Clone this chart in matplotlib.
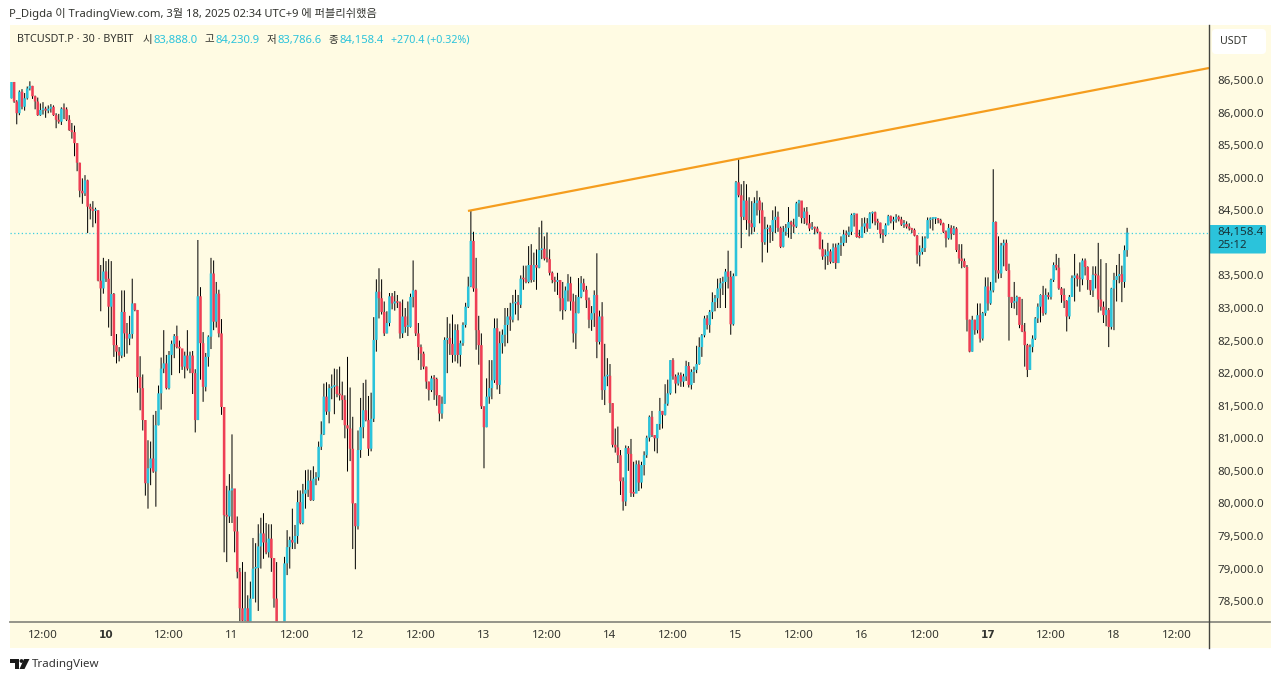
import numpy as np
import matplotlib
matplotlib.use('Agg')
import matplotlib.pyplot as plt
from matplotlib.patches import Polygon, Rectangle, Circle, FancyBboxPatch

plt.rcParams['font.family'] = ['Noto Sans', 'Noto Sans CJK KR', 'DejaVu Sans']

# 30 min candles, first open + closes / highs / lows (open = previous close)
first_open = 86218
closes = [
    86469,86170,85990,86320,86090,86220,86370,86410,86250,86170,
    85960,86040,86060,86030,86060,86090,85960,85890,85860,86060,
    86050,85890,85730,85700,85530,85230,84800,84760,84960,84555,
    84520,84490,84500,83420,83300,83560,83450,83020,83215,82430,
    82330,82270,82940,82610,82530,82600,83070,82970,81940,81770,
    81280,80310,80540,80690,80490,81200,81690,82070,82150,81770,
    82280,82450,82570,82400,82380,82100,82270,82070,82270,82000,
    81280,83180,82460,81790,82250,82560,83530,82790,83220,82610,
    81480,79820,79800,80200,80230,79570,78950,78390,78200,78390,
    78100,78540,79000,79010,79340,79540,79400,79250,79460,79160,
    78540,78100,77950,77800,79080,79330,79440,79400,79500,80020,
    79700,80150,80210,80350,80050,80380,80400,80870,81060,81640,
    81410,81770,81790,81800,81680,81660,81590,81200,81150,80840,
    80000,79650,80820,81170,81430,81280,80840,81300,82510,83250,
    83150,82940,82610,82770,83180,83070,83100,83080,82610,82870,
    82710,82710,83170,83270,82610,82400,82300,82100,81870,81740,
    81920,81910,81660,81380,81530,82510,82540,82450,82280,82660,
    82280,82460,82740,83020,83330,84030,83300,82660,82430,81490,
    81170,81640,81770,81890,82690,81820,82460,82590,82740,82870,
    82820,83070,83090,83050,83450,83440,83400,83660,83430,83660,
    83620,83890,83910,83760,83750,83540,83430,83400,83430,83150,
    82970,83270,83380,83100,82610,82920,83170,83380,83280,83120,
    82820,82920,83200,82480,82870,81740,81950,81960,81540,80900,
    80860,80740,80340,80030,80850,80760,80160,80150,80600,80320,
    80590,80740,81010,81330,81050,81000,81220,81420,81360,81530,
    81690,82200,81950,81840,81970,81870,81950,82110,81820,82020,
    82050,82140,82400,82580,82840,82740,82940,83090,83150,83300,
    83380,83400,83560,83480,82750,83490,84930,84730,84400,84650,
    84350,84300,84240,84610,84650,84500,84010,84210,84230,84170,
    84350,84400,84230,83940,84170,84230,84320,84280,84250,84607,
    84650,84380,84480,84300,84220,84230,84220,84170,83910,83790,
    83800,83870,83710,83930,83690,83970,84000,84130,84120,84170,
    84430,84450,84090,84080,84250,84300,84220,84450,84470,84330,
    84310,84140,84120,84270,84410,84330,84360,84400,84360,84280,
    84290,84250,84220,84200,84110,83810,83860,83920,84070,84350,
    84370,84370,84370,84350,84300,84170,84070,84230,84140,84220,
    83890,83760,83720,83630,82820,82330,82820,82660,82890,82530,
    82920,83330,83070,83270,84320,83580,83530,83960,84000,83580,
    83170,83080,83100,83170,82740,82640,82430,82050,82400,82530,
    82840,83020,83200,82920,83200,83170,83430,83660,83620,83300,
    83200,83110,82870,83170,83460,83500,83450,83440,83730,83630,
    83430,83270,83510,83500,83130,83020,82890,82970,82710,83300,
    83430,83490,83520,83400,83888,84158.4,
]
highs = [
    86469,86470,86190,86340,86360,86300,86400,86480,86410,86260,
    86230,86140,86160,86090,86110,86130,86110,85990,85980,86080,
    86140,86080,85960,85840,85800,85530,85230,84990,85040,84970,
    84600,84640,84540,84500,83660,83770,83720,83750,83720,83230,
    82600,82400,83270,83270,82770,82880,83450,83070,82970,82260,
    81980,81280,80970,80950,81360,81420,81810,82240,82660,82280,
    82340,82500,82600,82730,82500,82340,82330,82660,82330,82340,
    82060,84044,83320,82630,82310,82580,83770,83730,83400,83280,
    82830,81480,80270,80450,81060,80220,79800,79010,79100,78950,
    78590,78800,79470,79390,79680,79780,79850,79700,79680,79680,
    79160,79100,78100,77950,79180,79590,79490,79920,79670,80200,
    80200,80300,80510,80520,80510,80570,80480,80950,81260,81840,
    81860,81830,81980,82070,82060,82100,81870,81660,82250,81780,
    81330,80000,81120,81620,81850,81900,81650,81700,82860,83440,
    83610,83440,83100,82950,83230,83230,83260,83200,83100,83130,
    83000,83100,83220,83730,83280,82770,82440,82330,82100,81870,
    81960,81970,81930,81660,81640,82550,82860,82760,82900,82750,
    82750,82500,82780,83080,83480,84490,84170,83770,82880,82610,
    81490,81920,82200,82200,82840,82840,82640,82670,83000,83000,
    83080,83200,83280,83200,83500,83650,83650,83950,83980,83850,
    83900,84240,84340,84100,84160,83900,83560,83480,83540,83430,
    83400,83330,83520,83480,83220,83200,83460,83490,83450,83340,
    83160,83030,83270,83840,82960,83090,82450,82230,82140,81540,
    81150,81180,80820,80400,80890,80880,80990,80640,80660,80660,
    80640,80800,81040,81350,81420,81050,81220,81620,81420,81830,
    81900,82200,82230,81980,82010,82010,81990,82190,82170,82060,
    82100,82420,82550,82600,82880,82890,82970,83240,83200,83450,
    83460,83480,83600,83880,83570,83530,84950,85300,84900,84950,
    84900,84700,84640,84700,84800,84700,84620,84400,84280,84270,
    84500,84560,84480,84250,84260,84290,84550,84340,84370,84630,
    84660,84630,84540,84550,84430,84320,84250,84250,84170,84050,
    83900,84000,83900,83990,83990,84000,84100,84200,84190,84250,
    84450,84460,84400,84200,84380,84390,84380,84470,84480,84480,
    84370,84310,84210,84300,84430,84420,84400,84440,84420,84400,
    84350,84330,84300,84230,84220,84120,83960,84100,84100,84390,
    84390,84390,84390,84380,84370,84310,84190,84290,84270,84260,
    84240,83980,83980,83760,83660,82820,82880,82820,83070,83070,
    82940,83470,83470,83400,85130,84330,84100,84000,84050,84050,
    83680,83170,83400,83190,83170,83140,82770,82450,82440,82580,
    82860,83070,83210,83340,83300,83240,83450,83700,83830,83770,
    83320,83300,83120,83200,83500,83830,83530,83700,83760,83760,
    83640,83430,83640,83640,84000,83750,83100,83690,83000,83310,
    83540,83660,83830,83650,83960,84230.9,
]
lows = [
    86218,86150,85820,85960,86050,86030,86200,86340,86210,86050,
    85950,85950,85970,85920,85990,86000,85950,85760,85830,85810,
    85900,85870,85720,85600,85330,85100,84700,84600,84720,84150,
    84360,84240,84300,83410,82950,83220,83400,82700,82570,82250,
    82150,82180,82230,82250,82300,82430,82530,82950,81700,81430,
    81120,80120,79920,80280,80470,79950,81200,81440,82000,81750,
    81750,81970,82230,82380,82000,82050,81920,82040,82000,81680,
    81090,81280,81900,81560,81720,82100,82370,82660,82700,82550,
    81360,79250,79100,79700,79700,79250,78850,78190,78190,78190,
    77900,78000,78540,78480,78350,79000,79150,79220,79170,78950,
    78400,77900,77800,77700,77800,78900,79000,79300,79300,79380,
    79680,79680,79920,80100,80040,80040,80280,80350,80820,81050,
    81360,81230,81600,81370,81630,81580,81280,81000,80490,80650,
    79300,78990,79600,80700,81000,81260,80730,80800,81250,82330,
    82840,82900,82570,82610,82720,82980,82960,83000,82530,82540,
    82620,82570,82700,83010,82570,82200,82050,82060,81760,81580,
    81710,81590,81500,81260,81300,81530,82000,82280,82160,82180,
    82150,82100,82420,82700,83000,83320,83250,82360,82130,81450,
    80540,81170,81530,81600,81850,81750,81680,82300,82410,82460,
    82650,82780,82900,82810,83000,83280,83380,83380,83390,83400,
    83280,83610,83750,83730,83700,83500,83380,83250,83200,82950,
    82820,82950,83100,82960,82470,82370,82920,83150,83250,83000,
    82690,82650,82710,82230,82440,81590,81510,81800,81390,80860,
    80780,80620,80130,79890,79960,80500,80100,80100,80170,80190,
    80230,80430,80700,80950,81020,80800,80770,81130,81150,81350,
    81500,81670,81900,81690,81810,81790,81790,81880,81780,81750,
    81850,82000,82130,82250,82550,82670,82620,82830,82950,83000,
    83000,83200,83000,83300,82590,82730,83490,84700,83920,84350,
    84200,84100,84130,84170,84420,84300,83700,83970,83850,84000,
    84030,84150,84170,83920,83930,84110,84080,84060,84150,84230,
    84400,84300,84290,84270,84180,84200,84130,84150,83900,83740,
    83590,83660,83680,83690,83600,83690,83800,83950,84000,84090,
    84120,84250,84080,84070,84080,84150,84170,84220,84300,84270,
    84200,84070,84000,84100,84270,84300,84200,84310,84330,84260,
    84230,84220,84190,84150,84100,83680,83640,83820,83860,84070,
    84220,84190,84290,84300,84270,84150,83930,84050,84050,84120,
    83860,83680,83610,83620,82640,82320,82330,82590,82610,82470,
    82500,82880,82960,83050,83240,83390,83450,83460,83640,83570,
    82500,83000,82990,82890,82690,82630,82100,81940,82050,82320,
    82510,82770,82780,82880,82900,83130,83130,83400,83580,83280,
    83080,83000,82640,82830,83170,83100,83330,83250,83350,83500,
    83280,83200,83170,83300,82930,82960,82770,82720,82400,82670,
    82660,83100,83380,83090,83310,83786.6,
]

# 84,000.0 sits behind the last price tag, so it is not listed
y_ticks = [78500 + 500 * k for k in range(17) if 78500 + 500 * k != 84000]
x_tick_bars = [12 + 24 * k for k in range(19)]
x_tick_labels = ['12:00', '10', '12:00', '11', '12:00', '12', '12:00', '13', '12:00', '14',
                 '12:00', '15', '12:00', '16', '12:00', '17', '12:00', '18', '12:00']
bold_labels = ['10', '17']
trend_bars = [173.9, 456.2]
trend_prices = [84490, 86684]
last_price = 84158.4

W, H = 1280, 681
BG = '#FFFBE3'
BLUE = '#2BC3DB'
RED = '#EE3F55'
ORANGE = '#F59D1E'
TEXT = '#33342f'

fig = plt.figure(figsize=(W / 100, H / 100), dpi=100, facecolor='white')

# chrome layer in pixel coords
bg = fig.add_axes([0, 0, 1, 1], zorder=0)
bg.set_xlim(0, W)
bg.set_ylim(H, 0)
bg.axis('off')
bg.add_patch(Rectangle((10, 25), 1261, 623, color=BG, lw=0))

ax = fig.add_axes([10 / W, (H - 622) / H, 1199 / W, 596 / H], zorder=1)
ax.patch.set_alpha(0)
ax.set_xlim(-0.57, 456.2)
ax.set_ylim(78180, 87329)

c = np.array(closes, dtype=float)
o = np.r_[first_open, c[:-1]]
hi = np.array(highs, dtype=float)
lo = np.array(lows, dtype=float)
bars = np.arange(len(c))
colors = np.where(c >= o, BLUE, RED)

wicks = ax.vlines(bars, lo, hi, color='black', lw=0.72, zorder=2)
wicks.set_snap(False)
ax.bar(bars, np.maximum(np.abs(c - o), 25), bottom=np.minimum(c, o), width=0.98,
       color=colors, lw=0, zorder=3, snap=False)
ax.axhline(last_price, color='#3CCFE0', lw=0.9, ls=(0, (1, 2)), zorder=1)
ax.plot(trend_bars, trend_prices, color=ORANGE, lw=1.6, zorder=4, solid_capstyle='butt')

for s in ax.spines.values():
    s.set_visible(False)
ax.yaxis.tick_right()
ax.set_yticks(y_ticks)
ax.set_yticklabels([f'{v:,.1f}' for v in y_ticks], fontsize=8.3, color=TEXT)
ax.set_xticks(x_tick_bars)
ax.set_xticklabels(x_tick_labels, fontsize=8.3, color=TEXT)
for lab in ax.get_xticklabels():
    if lab.get_text() in bold_labels:
        lab.set_fontfamily(['DejaVu Sans'])
        lab.set_fontweight('bold')
        lab.set_fontsize(7.6)
ax.tick_params(axis='y', length=0, pad=5.8)
ax.tick_params(axis='x', length=0, pad=6)

top = fig.add_axes([0, 0, 1, 1], zorder=2)
top.set_xlim(0, W)
top.set_ylim(H, 0)
top.axis('off')
top.plot([10, 1270], [622, 622], color='#8c8c82', lw=1.3)
top.plot([1209, 1209], [25, 648], color='#45453f', lw=1.0)

# USDT button
top.add_patch(FancyBboxPatch((1214, 31), 50, 21, boxstyle='round,pad=2,rounding_size=4',
                             fc='white', ec='none'))
top.text(1233.5, 41.5, 'USDT', fontsize=7.6, color=TEXT, ha='center', va='center')

# last price tag
top.add_patch(FancyBboxPatch((1209, 225), 57, 28.5, boxstyle='round,pad=0,rounding_size=1.5',
                             fc=BLUE, ec='none'))
top.text(1217, 232.5, f'{last_price:,.1f}', fontsize=8.3, color='#17343a', va='center')
top.text(1217, 245.5, '25:12', fontsize=8.3, color='#17343a', va='center')

# header
top.text(9, 14, 'P_Digda 이 TradingView.com, 3월 18, 2025 02:34 UTC+9 에 퍼블리쉬했음',
         fontsize=8.1, color=TEXT, va='center')
top.text(17, 40, 'BTCUSDT.P · 30 · BYBIT', fontsize=7.8, color=TEXT, va='center')
for x_k, k, x_v, v in [(143, '시', 153, '83,888.0'), (204, '고', 215, '84,230.9'),
                       (267, '저', 277, '83,786.6'), (328, '종', 339, '84,158.4')]:
    top.text(x_k, 40, k, fontsize=7.6, color=TEXT, va='center')
    top.text(x_v, 40, v, fontsize=8.1, color=BLUE, va='center')
top.text(391, 40, '+270.4 (+0.32%)', fontsize=7.7, color=BLUE, va='center')

# TradingView mark
top.add_patch(Polygon([(9.5, 659), (19, 659), (19, 669), (14.5, 669), (14.5, 663), (9.5, 663)],
                      fc='#1a1a1a', ec='none'))
top.add_patch(Circle((21.5, 661), 1.9, fc='#1a1a1a', ec='none'))
top.add_patch(Polygon([(24, 659), (29.5, 659), (24.5, 669), (19.5, 669)], fc='#1a1a1a', ec='none'))
top.text(31.5, 664, 'TradingView', fontsize=8.3, color='#333333', va='center')

fig.savefig('out.png', dpi=100, facecolor='white')
